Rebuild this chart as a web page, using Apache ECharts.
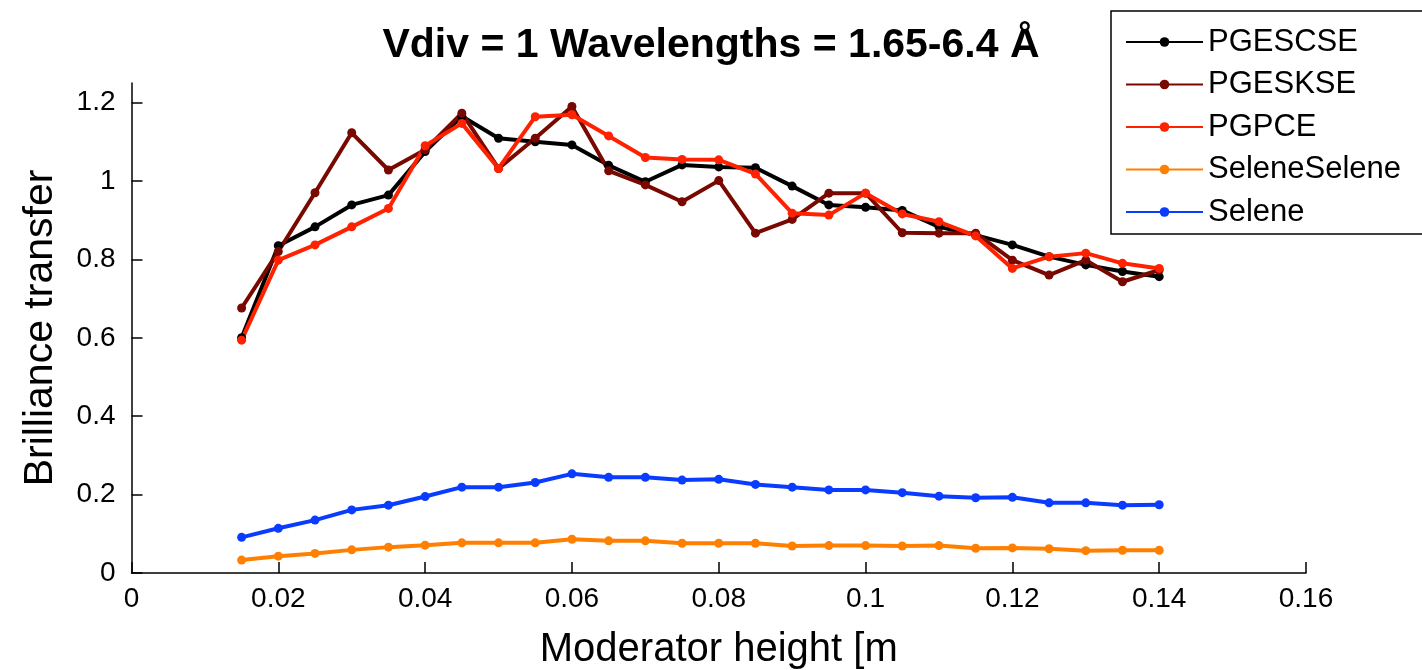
<!DOCTYPE html>
<html>
<head>
<meta charset="utf-8">
<title>Brilliance transfer vs moderator height</title>
<script src="https://cdn.jsdelivr.net/npm/echarts@6/dist/echarts.min.js"></script>
<style>
  html, body { margin: 0; padding: 0; background: #ffffff; }
  #chart { width: 1422px; height: 670px; }
</style>
</head>
<body>
<div id="chart"></div>
<script>
// Moderator heights [m]
const heights = [0.015, 0.02, 0.025, 0.03, 0.035, 0.04, 0.045, 0.05, 0.055, 0.06, 0.065, 0.07, 0.075,
                 0.08, 0.085, 0.09, 0.095, 0.1, 0.105, 0.11, 0.115, 0.12, 0.125, 0.13, 0.135, 0.14];

// Brilliance transfer per guide configuration
const pgescse = [0.60, 0.835, 0.883, 0.939, 0.964, 1.075, 1.165, 1.109, 1.10, 1.092, 1.04, 0.998, 1.041,
                 1.036, 1.034, 0.987, 0.939, 0.933, 0.925, 0.883, 0.862, 0.837, 0.807, 0.786, 0.769, 0.756];
const pgeskse = [0.676, 0.82, 0.97, 1.123, 1.028, 1.08, 1.173, 1.032, 1.109, 1.19, 1.026, 0.990, 0.947,
                 1.001, 0.867, 0.902, 0.969, 0.969, 0.868, 0.867, 0.867, 0.798, 0.760, 0.798, 0.743, 0.773];
const pgpce   = [0.594, 0.798, 0.837, 0.883, 0.93, 1.09, 1.147, 1.032, 1.164, 1.169, 1.115, 1.060, 1.055,
                 1.054, 1.018, 0.918, 0.913, 0.969, 0.916, 0.896, 0.860, 0.777, 0.807, 0.816, 0.790, 0.777];
const seleneSelene = [0.033, 0.043, 0.050, 0.059, 0.066, 0.071, 0.077, 0.077, 0.077, 0.086, 0.082, 0.082, 0.076,
                      0.076, 0.076, 0.069, 0.070, 0.070, 0.069, 0.070, 0.063, 0.064, 0.062, 0.057, 0.058, 0.058];
const selene  = [0.091, 0.114, 0.135, 0.161, 0.173, 0.195, 0.219, 0.219, 0.231, 0.253, 0.244, 0.244, 0.237,
                 0.239, 0.226, 0.219, 0.212, 0.212, 0.205, 0.196, 0.192, 0.193, 0.179, 0.179, 0.173, 0.174];

// Axis ticks
const yTicks = [0, 0.2, 0.4, 0.6, 0.8, 1, 1.2];

const FONT = '"Liberation Sans", Arial, Helvetica, sans-serif';

const seriesDefs = [
  { name: 'PGESCSE',      color: '#000000', values: pgescse },
  { name: 'PGESKSE',      color: '#780800', values: pgeskse },
  { name: 'PGPCE',        color: '#ff2200', values: pgpce },
  { name: 'SeleneSelene', color: '#ff8000', values: seleneSelene },
  { name: 'Selene',       color: '#0a3cff', values: selene }
];

const pair = (vals) => heights.map((h, i) => [h, vals[i]]);

const chart = echarts.init(document.getElementById('chart'), null, { renderer: 'canvas' });

chart.setOption({
  animation: false,
  backgroundColor: '#ffffff',
  title: {
    text: 'Vdiv = 1 Wavelengths = 1.65-6.4 Å',
    left: 706,
    top: 20,
    textAlign: 'center',
    textStyle: { fontFamily: FONT, fontSize: 41, fontWeight: 'bold', color: '#000' }
  },
  legend: {
    orient: 'vertical',
    left: 1111,
    top: 11,
    padding: [14, 80, 5, 14],
    itemWidth: 77,
    itemHeight: 12,
    itemGap: 8.5,
    backgroundColor: '#ffffff',
    borderColor: '#000000',
    borderWidth: 1.5,
    textStyle: { fontFamily: FONT, fontSize: 31, color: '#000', lineHeight: 34 },
    data: seriesDefs.map(s => s.name)
  },
  grid: { left: 131.5, right: 116, top: 83, bottom: 97, containLabel: false, outerBoundsMode: 'none' },
  xAxis: {
    type: 'value',
    min: 0,
    max: 0.16,
    interval: 0.02,
    name: 'Moderator height [m',
    nameLocation: 'middle',
    nameGap: 57,
    nameTextStyle: { fontFamily: FONT, fontSize: 40, color: '#000' },
    axisLine: { show: true, lineStyle: { color: '#000', width: 1.5 } },
    axisTick: { show: true, inside: true, length: 11, lineStyle: { color: '#000', width: 1.5 } },
    axisLabel: { fontFamily: FONT, fontSize: 28, color: '#000', margin: 12 },
    splitLine: { show: false }
  },
  yAxis: {
    type: 'value',
    min: 0,
    max: 1.25,
    name: 'Brilliance transfer',
    nameLocation: 'middle',
    nameGap: 70,
    nameRotate: 90,
    nameTextStyle: { fontFamily: FONT, fontSize: 41, color: '#000' },
    axisLine: { show: true, lineStyle: { color: '#000', width: 1.5 } },
    axisTick: { show: true, inside: true, length: 11, customValues: yTicks, lineStyle: { color: '#000', width: 1.5 } },
    axisLabel: { fontFamily: FONT, fontSize: 28, color: '#000', margin: 16, customValues: yTicks },
    splitLine: { show: false }
  },
  series: seriesDefs.map(s => ({
    name: s.name,
    type: 'line',
    data: pair(s.values),
    symbol: 'circle',
    symbolSize: 9,
    showAllSymbol: true,
    lineStyle: { color: s.color, width: 4 },
    itemStyle: { color: s.color },
    emphasis: { disabled: true }
  }))
});
</script>
</body>
</html>
